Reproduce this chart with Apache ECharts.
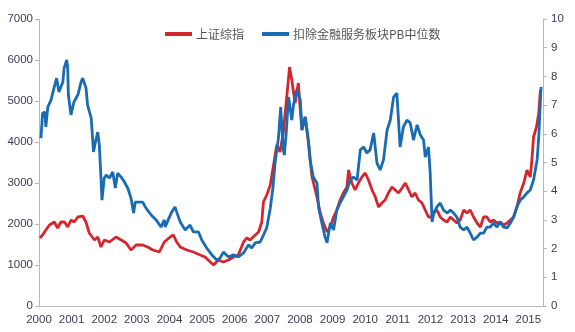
<!DOCTYPE html>
<html>
<head>
<meta charset="utf-8">
<script src="https://cdn.jsdelivr.net/npm/echarts@6/dist/echarts.min.js"></script>
<style>html,body{margin:0;padding:0;background:#fff}#c{width:575px;height:332px}</style>
</head>
<body>
<div id="c"></div>
<script>
const seriesNames = ['上证综指', '扣除金融服务板块PB中位数'];
const yearTicks = [2000,2001,2002,2003,2004,2005,2006,2007,2008,2009,2010,2011,2012,2013,2014,2015];

// 上证综指 (left axis)
const shT = [2000.03,2000.11,2000.21,2000.32,2000.47,2000.57,2000.67,2000.78,2000.88,2000.98,2001.08,2001.19,2001.34,2001.44,2001.54,2001.70,2001.80,2001.90,2002.00,2002.16,2002.36,2002.52,2002.67,2002.82,2002.98,2003.18,2003.33,2003.49,2003.69,2003.84,2004.02,2004.12,2004.22,2004.33,2004.53,2004.73,2004.94,2005.09,2005.25,2005.35,2005.50,2005.65,2005.81,2005.96,2006.11,2006.27,2006.37,2006.47,2006.63,2006.73,2006.83,2006.88,2006.98,2007.09,2007.19,2007.29,2007.39,2007.49,2007.60,2007.68,2007.75,2007.85,2007.95,2008.01,2008.06,2008.16,2008.26,2008.37,2008.52,2008.62,2008.72,2008.83,2008.93,2009.03,2009.13,2009.23,2009.33,2009.44,2009.49,2009.59,2009.69,2009.79,2009.90,2010.00,2010.10,2010.21,2010.31,2010.41,2010.51,2010.61,2010.71,2010.82,2010.92,2011.02,2011.13,2011.23,2011.33,2011.43,2011.53,2011.63,2011.74,2011.84,2011.94,2012.05,2012.10,2012.20,2012.30,2012.40,2012.51,2012.61,2012.71,2012.81,2012.91,2013.02,2013.12,2013.22,2013.32,2013.43,2013.53,2013.63,2013.73,2013.83,2013.93,2014.04,2014.14,2014.24,2014.35,2014.45,2014.55,2014.65,2014.75,2014.86,2014.96,2015.06,2015.11,2015.16,2015.25,2015.32,2015.37];
const shV = [1659,1732,1854,1976,2049,1902,2049,2049,1927,2098,2049,2171,2195,2049,1780,1610,1683,1439,1610,1561,1683,1610,1537,1366,1488,1488,1439,1366,1317,1561,1683,1732,1561,1439,1366,1317,1244,1195,1073,1000,1122,1073,1122,1195,1244,1561,1659,1610,1732,1805,2049,2537,2707,2951,3439,3927,3756,4244,5146,5829,5512,4951,5439,4780,4293,4610,3976,3146,2659,2268,2024,1805,1927,2171,2341,2585,2756,2902,3317,3000,2829,3000,3146,3244,3073,2829,2659,2415,2512,2585,2756,2902,2829,2756,2878,3000,2829,2659,2756,2585,2512,2341,2171,2171,2268,2341,2171,2098,2049,2171,2098,2024,2098,2341,2268,2341,2171,2024,1927,2171,2171,2049,2098,2024,2049,1976,2024,2098,2171,2415,2756,3000,3317,3146,3561,4122,4366,4707,5268];

// 扣除金融服务板块PB中位数 (right axis)
const pbT = [2000.06,2000.11,2000.18,2000.21,2000.27,2000.37,2000.46,2000.54,2000.61,2000.73,2000.77,2000.85,2000.88,2000.90,2000.98,2001.07,2001.19,2001.29,2001.34,2001.44,2001.49,2001.60,2001.67,2001.73,2001.80,2001.85,2001.90,2001.93,2002.00,2002.06,2002.16,2002.26,2002.34,2002.41,2002.52,2002.62,2002.72,2002.82,2002.90,2002.95,2003.08,2003.18,2003.28,2003.44,2003.59,2003.74,2003.84,2003.87,2003.96,2004.07,2004.17,2004.22,2004.33,2004.48,2004.63,2004.73,2004.89,2004.99,2005.14,2005.30,2005.45,2005.55,2005.65,2005.81,2005.96,2006.11,2006.27,2006.42,2006.52,2006.63,2006.78,2006.88,2006.98,2007.09,2007.17,2007.24,2007.34,2007.41,2007.48,2007.52,2007.58,2007.65,2007.75,2007.80,2007.90,2008.01,2008.06,2008.16,2008.26,2008.31,2008.41,2008.52,2008.57,2008.67,2008.77,2008.83,2008.93,2009.03,2009.13,2009.23,2009.33,2009.44,2009.54,2009.64,2009.75,2009.85,2009.95,2010.05,2010.15,2010.26,2010.36,2010.46,2010.56,2010.67,2010.77,2010.87,2010.97,2011.07,2011.17,2011.28,2011.38,2011.48,2011.59,2011.69,2011.79,2011.84,2011.94,2011.99,2012.05,2012.10,2012.20,2012.30,2012.40,2012.51,2012.61,2012.71,2012.81,2012.91,2013.02,2013.12,2013.22,2013.32,2013.43,2013.53,2013.63,2013.73,2013.83,2013.93,2014.04,2014.14,2014.24,2014.35,2014.45,2014.55,2014.65,2014.75,2014.86,2014.96,2015.06,2015.16,2015.27,2015.32,2015.39];
const pbV = [5.85,6.72,6.76,6.24,6.93,7.18,7.60,7.94,7.46,7.80,8.29,8.57,8.29,7.35,6.66,7.11,7.35,7.80,7.94,7.60,7.00,6.55,5.37,5.71,6.06,5.61,4.46,3.69,4.46,4.56,4.46,4.67,4.11,4.63,4.49,4.32,4.11,3.76,3.24,3.62,3.62,3.62,3.41,3.17,3.00,2.75,3.00,2.75,3.00,3.28,3.45,3.28,2.93,2.65,2.82,2.58,2.58,2.30,2.02,1.78,1.60,1.67,1.88,1.71,1.78,1.71,1.85,2.13,2.02,2.20,2.23,2.47,2.72,3.41,4.11,5.02,5.85,6.93,5.51,5.26,6.06,7.28,6.48,7.00,7.53,7.18,6.13,6.59,5.78,5.09,4.49,4.29,3.45,2.89,2.40,2.20,2.89,2.65,3.34,3.59,3.80,4.04,4.39,4.49,4.39,5.44,5.54,5.33,5.44,6.03,4.98,4.74,5.09,6.13,6.48,7.28,7.42,5.54,6.24,6.48,6.38,5.78,6.31,5.96,5.78,5.19,5.54,4.67,2.93,3.24,3.45,3.59,3.34,3.24,3.34,3.24,3.10,2.75,2.65,2.75,2.54,2.30,2.40,2.54,2.54,2.75,2.75,2.89,2.75,2.93,2.75,2.72,2.89,3.10,3.45,3.69,3.80,3.94,4.04,4.39,5.09,5.89,7.63];

const leftTicks = [0,1000,2000,3000,4000,5000,6000,7000];
const rightTicks = [0,1,2,3,4,5,6,7,8,9,10];

const zip = (t, v) => t.map((x, i) => [x, v[i]]);
const labelColor = '#3b4050';
const axisColor = '#b8b8b8';
const font = 'Liberation Sans, Arial, sans-serif';

const chart = echarts.init(document.getElementById('c'), null, {renderer: 'canvas'});
chart.setOption({
  animation: false,
  backgroundColor: '#fff',
  legend: {
    top: 23, left: 160,
    itemWidth: 27, itemHeight: 4, itemGap: 18,
    icon: 'rect',
    textStyle: {color: '#555', fontSize: 12, fontFamily: 'Noto Sans CJK SC, sans-serif', padding: [0,0,0,-1]},
    data: seriesNames
  },
  grid: {left: 39, right: 32, top: 19, bottom: 26, containLabel: false},
  xAxis: {
    type: 'value', min: yearTicks[0], max: 2015.45, interval: 1,
    axisLine: {show: true, lineStyle: {color: axisColor, width: 1}},
    axisTick: {show: false},
    splitLine: {show: false},
    axisLabel: {
      color: labelColor, fontSize: 11.5, fontFamily: font, margin: 8,
      showMaxLabel: false,
      formatter: v => yearTicks.indexOf(Math.round(v)) >= 0 && Math.abs(v - Math.round(v)) < 1e-6 ? String(Math.round(v)) : ''
    }
  },
  yAxis: [
    {
      type: 'value', min: leftTicks[0], max: leftTicks[leftTicks.length-1], interval: 1000,
      axisLine: {show: true, lineStyle: {color: axisColor}},
      axisTick: {show: true, length: 4, lineStyle: {color: axisColor}},
      splitLine: {show: false},
      axisLabel: {color: labelColor, fontSize: 11.5, fontFamily: font, margin: 6, formatter: v => String(v)}
    },
    {
      type: 'value', min: rightTicks[0], max: rightTicks[rightTicks.length-1], interval: 1,
      position: 'right',
      axisLine: {show: true, lineStyle: {color: axisColor}},
      axisTick: {show: true, length: 4, lineStyle: {color: axisColor}},
      splitLine: {show: false},
      axisLabel: {color: labelColor, fontSize: 11.5, fontFamily: font, margin: 8, formatter: v => String(v)}
    }
  ],
  series: [
    {
      name: seriesNames[0], type: 'line', yAxisIndex: 0, showSymbol: false, symbol: 'none',
      data: zip(shT, shV),
      itemStyle: {color: '#d4262c'},
      lineStyle: {color: '#d4262c', width: 2.8}
    },
    {
      name: seriesNames[1], type: 'line', yAxisIndex: 1, showSymbol: false, symbol: 'none',
      data: zip(pbT, pbV),
      itemStyle: {color: '#1a6cb2'},
      lineStyle: {color: '#1a6cb2', width: 2.8}
    }
  ]
});
</script>
</body>
</html>
